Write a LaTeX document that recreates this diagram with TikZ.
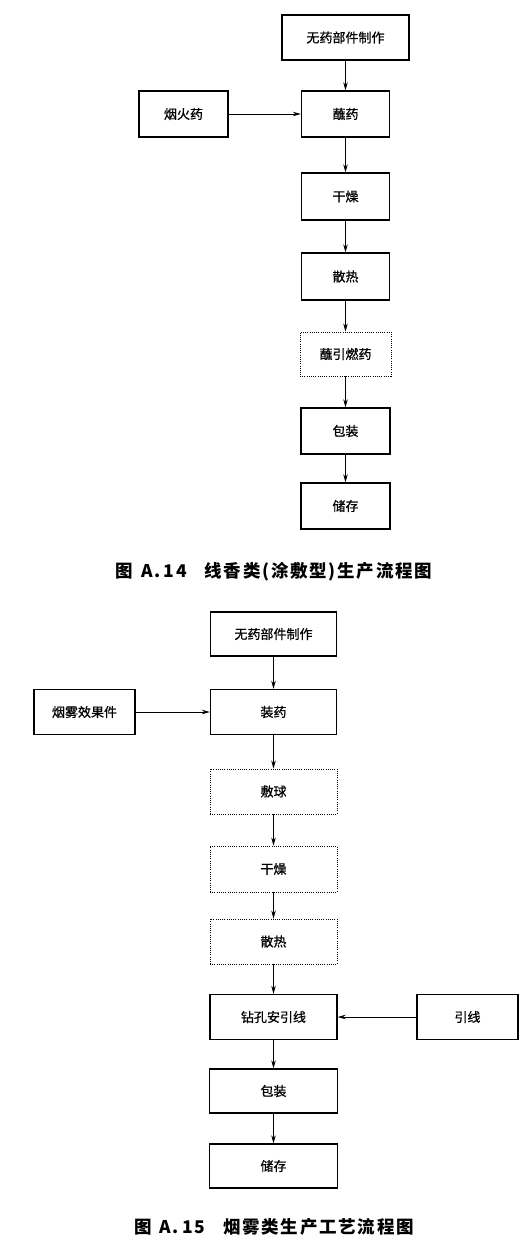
\documentclass[tikz,border=0pt]{standalone}
\usepackage{fontspec}
\newfontfamily\cjk{Noto Sans CJK SC}[FakeBold=0.8]
\newfontfamily\capfont{Noto Sans CJK SC}[LetterSpace=10]
\usetikzlibrary{arrows.meta}
\begin{document}
\begin{tikzpicture}[x=1pt,y=-1pt,
  box/.style={draw,line width=1.4pt,inner sep=0pt,font=\cjk\fontsize{13}{13}\selectfont},
  dbox/.style={draw,line width=0.9pt,dash pattern=on 0.9pt off 1.3pt,inner sep=0pt,font=\cjk\fontsize{13}{13}\selectfont},
  arr/.style={draw,line width=0.8pt,-{Stealth[length=8pt,width=4.5pt]}},
  captext/.style={font=\capfont\bfseries\fontsize{17.5}{17.5}\selectfont}]
\useasboundingbox (0,0) rectangle (527,1240);
% Figure A.14
\node[box,minimum width=127pt,minimum height=45pt] (a1) at (345.5,37.5) {无药部件制作};
\node[box,minimum width=89pt,minimum height=46pt] (a2) at (183.5,114) {烟火药};
\node[box,minimum width=88pt,minimum height=46pt] (a3) at (345.5,114) {蘸药};
\node[box,minimum width=88pt,minimum height=47pt] (a4) at (345.5,196.5) {干燥};
\node[box,minimum width=88pt,minimum height=47pt] (a5) at (345.5,276.5) {散热};
\node[dbox,minimum width=91pt,minimum height=44pt] (a6) at (345.5,354) {蘸引燃药};
\node[box,minimum width=89pt,minimum height=46pt] (a7) at (345.5,431) {包装};
\node[box,minimum width=89pt,minimum height=46pt] (a8) at (345.5,506) {储存};
\draw[arr] (a1) -- (a3);
\draw[arr] (a2) -- (a3);
\draw[arr] (a3) -- (a4);
\draw[arr] (a4) -- (a5);
\draw[arr] (a5) -- (a6);
\draw[arr] (a6) -- (a7);
\draw[arr] (a7) -- (a8);
\node[captext] (c1) at (274,572) {图\hspace{8pt}A.\,14\hspace{18pt}线香类(涂敷型)生产流程图};
% Figure A.15
\node[box,minimum width=126pt,minimum height=44pt] (b1) at (273.5,634) {无药部件制作};
\node[box,minimum width=101pt,minimum height=45pt] (b2) at (84.5,712) {烟雾效果件};
\node[box,minimum width=126pt,minimum height=45pt] (b3) at (273.5,712) {装药};
\node[dbox,minimum width=127pt,minimum height=45pt] (b4) at (273.5,791.5) {敷球};
\node[dbox,minimum width=127pt,minimum height=46pt] (b5) at (273.5,869) {干燥};
\node[dbox,minimum width=127pt,minimum height=45pt] (b6) at (273.5,941.5) {散热};
\node[box,minimum width=127pt,minimum height=45pt] (b7) at (273.5,1017) {钻孔安引线};
\node[box,minimum width=101pt,minimum height=45pt] (b8) at (467.5,1017) {引线};
\node[box,minimum width=128pt,minimum height=44pt] (b9) at (273.5,1091) {包装};
\node[box,minimum width=128pt,minimum height=44pt] (b10) at (273.5,1166) {储存};
\draw[arr] (b1) -- (b3);
\draw[arr] (b2) -- (b3);
\draw[arr] (b3) -- (b4);
\draw[arr] (b4) -- (b5);
\draw[arr] (b5) -- (b6);
\draw[arr] (b6) -- (b7);
\draw[arr] (b8) -- (b7);
\draw[arr] (b7) -- (b9);
\draw[arr] (b9) -- (b10);
\node[captext] (c2) at (274,1227) {图\hspace{8pt}A.\,15\hspace{18pt}烟雾类生产工艺流程图};
\end{tikzpicture}
\end{document}
